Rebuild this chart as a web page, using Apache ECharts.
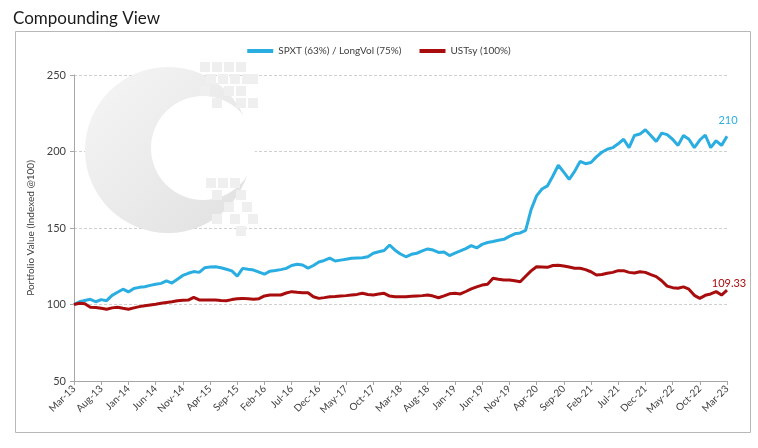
<!DOCTYPE html>
<html>
<head>
<meta charset="utf-8">
<script src="https://cdn.jsdelivr.net/npm/echarts@6/dist/echarts.min.js"></script>
<style>
html,body{margin:0;padding:0;background:#fff;}
#chart{width:758px;height:448px;}
</style>
</head>
<body>
<div id="chart"></div>
<script>
const titleText = 'Compounding View';
const seriesNames = ['SPXT (63%) / LongVol (75%)', 'USTsy (100%)'];
const yTicks = [50, 100, 150, 200, 250];
const monthNames = ['Jan','Feb','Mar','Apr','May','Jun','Jul','Aug','Sep','Oct','Nov','Dec'];

// Monthly categories Mar-13 .. Mar-23
const categories = [];
for (let y = 13; y <= 23; y++) {
  for (let m = 0; m < 12; m++) {
    if (y === 13 && m < 2) continue;
    if (y === 23 && m > 2) continue;
    categories.push(monthNames[m] + '-' + y);
  }
}

const spxtLongVol = [
  100, 101.8, 102.6, 103.4, 101.8, 103.2, 102.5, 106, 108, 110,
  108.2, 110.5, 111.2, 111.6, 112.5, 113.2, 113.8, 115.4, 114, 116.5,
  119, 120.4, 121.5, 121, 124, 124.5, 124.7, 124, 123, 122,
  118.6, 123.6, 123, 122.5, 121.2, 119.8, 121.8, 122.2, 122.8, 123.6,
  125.5, 126.3, 125.8, 123.8, 125.5, 127.8, 128.8, 130.3, 128.4, 129,
  129.6, 130.2, 130.4, 130.6, 131.2, 133.5, 134.5, 135.3, 138.9, 135.5,
  133, 131.2, 132.8, 133.5, 135, 136.3, 135.6, 134, 134.3, 132,
  133.6, 135, 136.5, 138.5, 137, 139.3, 140.5, 141.2, 142, 142.6,
  144.5, 146.2, 146.8, 148.5, 162, 171, 175.5, 177.5, 184, 191,
  186.5, 181.8, 187, 193.5, 192, 192.8, 196.5, 199.5, 201.5, 202.5,
  205, 208, 202.5, 210.5, 211.4, 214.2, 210.5, 206.5, 212, 211,
  208, 204, 210.5, 208, 202.5, 207.5, 210.8, 202.5, 207, 204,
  210
];
const ustsy = [
  100, 100.8, 100.5, 98.2, 98, 97.5, 96.9, 97.8, 98.2, 97.5,
  96.9, 97.8, 98.6, 99.2, 99.7, 100.2, 100.8, 101.3, 101.8, 102.5,
  102.8, 102.9, 104.7, 103, 102.9, 102.9, 102.9, 102.6, 102.5, 103.2,
  103.8, 104, 103.7, 103.4, 103.8, 105.6, 106.2, 106.2, 106.2, 107.5,
  108.4, 108, 107.7, 107.7, 105.1, 104, 104.5, 105.1, 105.3, 105.6,
  105.8, 106.2, 106.6, 107.3, 106.5, 106.2, 106.8, 107.3, 105.5, 105.1,
  105.1, 105.1, 105.4, 105.6, 105.8, 106.2, 105.5, 104.4, 105.6, 107,
  107.3, 106.9, 108.5, 110.2, 111.5, 112.7, 113.3, 117.1, 116.5, 116,
  116, 115.5, 114.9, 118.5, 122, 124.7, 124.5, 124.3, 125.5, 125.7,
  125.2, 124.5, 123.7, 123.7, 122.8, 121.4, 119.3, 119.6, 120.4, 121,
  122.1, 122.1, 121, 120.6, 121.4, 121, 119.5, 118.2, 115.5, 112,
  111, 110.6, 111.5, 110, 106, 104, 106, 106.9, 108.4, 106.2,
  109.33
];
const endLabels = ['210', '109.33'];

const blueColor = '#2AAEE2';
const redColor = '#A80C0C';
const textColor = '#404040';
const FONT = 'Lato, "Open Sans", sans-serif';

function endMark(arr, text, color, offset) {
  const last = arr.length - 1;
  return {
    silent: true,
    symbol: 'circle', symbolSize: 1,
    itemStyle: { color: 'rgba(0,0,0,0)' },
    label: { show: true, position: 'top', distance: 0, offset: offset, formatter: text, color: color, fontSize: 11, fontFamily: FONT },
    data: [{ coord: [categories[last], arr[last]] }]
  };
}

const chart = echarts.init(document.getElementById('chart'), null, { renderer: 'canvas' });

// decorative watermark squares
const squares = [];
const sqTop = [[200,62],[212,62],[224,62],[236,62],[206,74],[218,74],[230,74],[242,74],[200,86],[224,86],[236,86],[212,98],[236,98],[248,74],[248,98]];
const sqBot = [[206,178],[218,178],[230,178],[212,190],[236,190],[224,202],[242,202],[212,214],[230,214],[248,214],[236,226]];
sqTop.concat(sqBot).forEach(p => squares.push({
  type: 'rect', z: 1, silent: true,
  shape: { x: p[0], y: p[1], width: 10, height: 10 },
  style: { fill: '#efefef' }
}));

chart.setOption({
  animation: false,
  backgroundColor: '#ffffff',
  textStyle: { fontFamily: FONT },
  title: {
    text: titleText, left: 8, top: 5,
    textStyle: { fontSize: 17, fontWeight: 'normal', color: '#1a1a1a', fontFamily: FONT }
  },
  legend: {
    top: 41, left: 'center',
    itemWidth: 26, itemHeight: 4, itemGap: 18,
    icon: 'rect',
    textStyle: { fontSize: 10, color: textColor, fontFamily: FONT },
    data: seriesNames
  },
  graphic: [
    { type: 'rect', z: 0, silent: true, shape: { x: 15.5, y: 31.5, width: 735, height: 401 }, style: { fill: 'none', stroke: '#b8b8b8', lineWidth: 1 } },
    { type: 'circle', z: 1, silent: true, shape: { cx: 168, cy: 150, r: 83 },
      style: { fill: { type: 'linear', x: 0, y: 0, x2: 1, y2: 1, colorStops: [{ offset: 0, color: '#f6f6f6' }, { offset: 1, color: '#e0e0e0' }] } } },
    { type: 'circle', z: 1, silent: true, shape: { cx: 203, cy: 148, r: 52 }, style: { fill: '#ffffff' } }
  ].concat(squares),
  grid: { left: 74, right: 31, top: 75, bottom: 67, containLabel: false },
  xAxis: {
    type: 'category',
    data: categories,
    boundaryGap: false,
    axisLine: { lineStyle: { color: '#a6a6a6' } },
    axisTick: { interval: 4, length: 4, lineStyle: { color: '#a6a6a6' } },
    axisLabel: { interval: 4, rotate: 45, fontSize: 10, color: textColor, margin: 6, fontFamily: FONT },
    splitLine: { show: false }
  },
  yAxis: {
    type: 'value',
    min: yTicks[0], max: yTicks[yTicks.length - 1], interval: 50,
    name: 'Portfolio Value (Indexed @100)',
    nameLocation: 'middle', nameGap: 32, nameRotate: 90,
    nameTextStyle: { fontSize: 10, color: textColor, fontFamily: FONT },
    axisLine: { show: true, lineStyle: { color: '#a6a6a6' } },
    axisTick: { show: true, length: 4, lineStyle: { color: '#a6a6a6' } },
    axisLabel: { fontSize: 11, color: textColor, margin: 8, fontFamily: FONT },
    splitLine: { show: true, lineStyle: { color: '#d0d0d0', type: [3, 2], width: 1 } }
  },
  series: [
    {
      name: seriesNames[0], type: 'line', z: 3,
      data: spxtLongVol,
      showSymbol: false, symbol: 'none',
      lineStyle: { color: blueColor, width: 3 },
      itemStyle: { color: blueColor },
      markPoint: endMark(spxtLongVol, endLabels[0], blueColor, [1, -10])
    },
    {
      name: seriesNames[1], type: 'line', z: 3,
      data: ustsy,
      showSymbol: false, symbol: 'none',
      lineStyle: { color: redColor, width: 3 },
      itemStyle: { color: redColor },
      markPoint: endMark(ustsy, endLabels[1], redColor, [2, -1])
    }
  ]
});
</script>
</body>
</html>
